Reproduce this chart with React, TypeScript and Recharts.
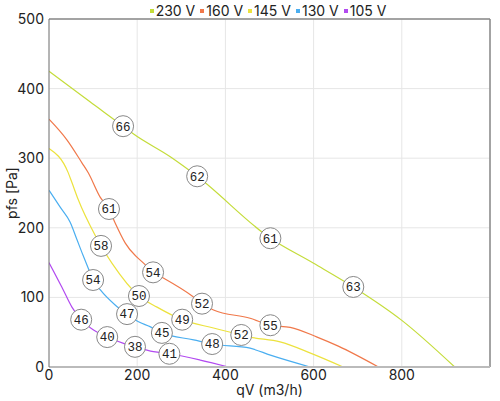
import React from "react";
import {
  LineChart,
  Line,
  XAxis,
  YAxis,
  CartesianGrid,
  ReferenceLine,
} from "recharts";

// airflow qV (m3/h), static pressure pfs (Pa), sound level labels per point
const q230 = [0, 93, 168, 191, 275, 336, 502, 600, 690, 800, 920];
const p230 = [425, 381, 346, 335, 302, 274, 185, 149, 115, 67, 0];
const l230 = [null, null, 66, null, null, 62, 61, null, 63, null, null];

const q160 = [0, 41, 75, 89, 116, 136, 150, 173, 218, 236, 259, 327, 347, 373, 456, 502, 547, 608, 656, 747];
const p160 = [356, 326, 293, 279, 244, 227, 207, 178, 147, 136, 128, 101, 91, 82, 70, 60, 57, 43, 30, 0];
const l160 = [null, null, null, null, null, 61, null, null, null, 54, null, null, 52, null, null, 55, null, null, null, null];

const q145 = [0, 43, 52, 66, 104, 118, 143, 204, 245, 302, 373, 436, 456, 524, 593, 667];
const p145 = [314, 280, 265, 241, 190, 174, 149, 102, 86, 68, 56, 46, 43, 36, 20, 0];
const l145 = [null, null, null, null, null, 58, null, 50, null, 49, null, 52, null, null, null, null];

const q130 = [0, 25, 48, 64, 75, 89, 100, 116, 150, 177, 203, 229, 256, 328, 370, 456, 502, 592];
const p130 = [254, 230, 208, 182, 164, 142, 125, 111, 89, 76, 65, 58, 49, 39, 33, 27, 17, 0];
const l130 = [null, null, null, null, null, null, 54, null, null, 47, null, null, 45, null, 48, null, null, null];

const q105 = [0, 29, 52, 73, 101, 132, 169, 195, 237, 273, 343, 407];
const p105 = [150, 115, 86, 68, 53, 43, 34, 29, 22, 19, 10, 0];
const l105 = [null, null, null, 46, null, 40, null, 38, null, 41, null, null];

const xTicks = [0, 200, 400, 600, 800];
const yTicks = [0, 100, 200, 300, 400, 500];

const build = (q: number[], p: number[], l: (number | null)[]) =>
  q.map((x, i) => ({ q: x, p: p[i], label: l[i] }));

const series = [
  { name: "230 V", color: "#c4dc3a", data: build(q230, p230, l230) },
  { name: "160 V", color: "#f0784a", data: build(q160, p160, l160) },
  { name: "145 V", color: "#ece23e", data: build(q145, p145, l145) },
  { name: "130 V", color: "#4aaef0", data: build(q130, p130, l130) },
  { name: "105 V", color: "#b24af0", data: build(q105, p105, l105) },
];

const FONT = "Inter, 'Noto Sans', sans-serif";

function LabelDot(props: any) {
  const { cx, cy, payload, index } = props;
  if (payload?.label == null) return <g key={index} />;
  return (
    <g key={index}>
      <circle cx={cx} cy={cy} r={10.5} fill="#fff" stroke="#888" strokeWidth={1} />
      <text
        x={cx}
        y={cy}
        dy="0.35em"
        textAnchor="middle"
        fontSize={12.5}
        fontFamily="'Liberation Mono', 'DejaVu Sans Mono', monospace"
        fill="#222"
      >
        {payload.label}
      </text>
    </g>
  );
}

export default function App() {
  return (
    <div style={{ position: "absolute", left: 0, top: 0, width: 500, height: 401, fontFamily: FONT }}>
      <div
        style={{
          position: "absolute",
          top: 2,
          left: 0,
          width: 536,
          display: "flex",
          justifyContent: "center",
          fontSize: 14,
          color: "#222",
          gap: 5,
        }}
      >
        {series.map((s) => (
          <span key={s.name} style={{ display: "flex", alignItems: "center" }}>
            <span style={{ width: 4, height: 4, background: s.color, marginRight: 2 }} />
            {s.name}
          </span>
        ))}
      </div>
      <LineChart width={500} height={401} margin={{ top: 19, right: 10, bottom: 4, left: 0 }}>
        <CartesianGrid stroke="#e6e6e6" />
        <XAxis
          type="number"
          dataKey="q"
          height={30}
          domain={[0, 1000]}
          ticks={xTicks}
          allowDataOverflow
          tickLine={false}
          tickSize={1}
          axisLine={{ stroke: "#bbb", strokeWidth: 2 }}
          tick={{ fontSize: 14, fill: "#222", fontFamily: FONT }}
          label={{ value: "qV (m3/h)", position: "insideBottom", offset: 2, fontSize: 14, fill: "#222", fontFamily: FONT }}
        />
        <YAxis
          type="number"
          dataKey="p"
          width={49}
          domain={[0, 500]}
          ticks={yTicks}
          allowDataOverflow
          tickLine={false}
          tickSize={3}
          axisLine={{ stroke: "#777" }}
          tick={{ fontSize: 14, fill: "#222", fontFamily: FONT }}
          label={{ value: "pfs [Pa]", angle: -90, position: "insideLeft", offset: 12, fontSize: 14, fill: "#222", fontFamily: FONT, style: { textAnchor: "middle" } }}
        />
        <ReferenceLine y={500} stroke="#888" strokeWidth={1.5} />
        <ReferenceLine x={1000} stroke="#888" strokeWidth={1.5} />
        {series.map((s) => (
          <Line
            key={s.name}
            data={s.data}
            dataKey="p"
            name={s.name}
            type="monotone"
            stroke={s.color}
            strokeWidth={1.2}
            dot={<LabelDot />}
            activeDot={false}
            isAnimationActive={false}
          />
        ))}
      </LineChart>
    </div>
  );
}
